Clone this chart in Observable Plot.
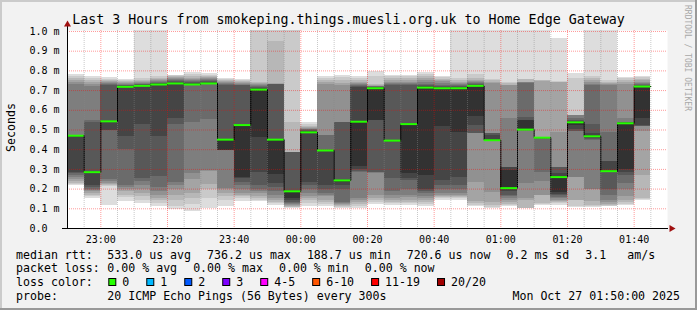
<!DOCTYPE html>
<html><head><meta charset="utf-8">
<script src="https://cdn.jsdelivr.net/npm/d3@7"></script>
<script src="https://cdn.jsdelivr.net/npm/@observablehq/plot@0.6"></script>
<style>
html,body{margin:0;padding:0;background:#f2f2f2;}
#chart{position:relative;width:697px;height:310px;background:#f2f2f2;overflow:hidden;font-family:"DejaVu Sans Mono",monospace;}
#chart svg{position:absolute;left:0;top:0;}
</style></head><body><div id="chart"></div>
<script>
const title = "Last 3 Hours from smokeping.things.muesli.org.uk to Home Edge Gateway";
const yLabel = "Seconds";
const watermark = "RRDTOOL / TOBI OETIKER";
const startTime = "2025-10-26T22:50:00Z";
const endTime = "2025-10-27T01:50:00Z";
const stepMinutes = 5;
const xTickLabels = ["23:00","23:20","23:40","00:00","00:20","00:40","01:00","01:20","01:40"];
const yTicks = [0, 0.1, 0.2, 0.3, 0.4, 0.5, 0.6, 0.7, 0.8, 0.9, 1.0];

// median rtt per 5-minute step (ms)
const medians = [0.471,0.286,0.544,0.719,0.724,0.731,0.7362,0.731,0.7362,0.451,0.525,0.705,0.451,0.1887,0.488,0.396,0.244,0.542,0.712,0.446,0.53,0.715,0.712,0.712,0.724,0.448,0.205,0.502,0.461,0.261,0.539,0.468,0.291,0.534,0.7206];

// 20 sorted ping rtts per step (ms)
const pings = [
[0.22,0.225,0.23,0.24,0.25,0.26,0.27,0.28,0.286,0.471,0.471,0.471,0.471,0.471,0.73,0.74,0.75,0.76,0.77,0.78],
[0.152,0.16,0.17,0.18,0.19,0.195,0.2,0.21,0.22,0.286,0.286,0.29,0.54,0.55,0.72,0.73,0.74,0.75,0.76,0.77],
[0.118,0.215,0.22,0.225,0.23,0.24,0.25,0.497,0.497,0.544,0.544,0.544,0.727,0.73,0.735,0.74,0.745,0.75,0.758,0.766],
[0.135,0.155,0.17,0.19,0.2,0.21,0.22,0.4,0.466,0.719,0.719,0.722,0.725,0.728,0.73,0.735,0.74,0.745,0.75,0.758],
[0.126,0.14,0.16,0.18,0.2,0.22,0.24,0.252,0.527,0.724,0.724,0.727,0.73,0.733,0.736,0.74,0.745,0.75,0.76,1.05],
[0.113,0.125,0.14,0.15,0.17,0.19,0.21,0.264,0.466,0.731,0.731,0.734,0.737,0.74,0.745,0.75,0.755,0.76,0.77,1.05],
[0.096,0.11,0.14,0.17,0.2,0.22,0.236,0.527,0.559,0.736,0.736,0.74,0.745,0.75,0.755,0.76,0.765,0.77,0.775,0.778],
[0.084,0.12,0.15,0.177,0.25,0.278,0.539,0.731,0.731,0.731,0.731,0.735,0.74,0.745,0.75,0.755,0.76,0.77,0.78,0.79],
[0.104,0.15,0.2,0.222,0.29,0.295,0.552,0.736,0.736,0.736,0.736,0.74,0.745,0.75,0.755,0.76,0.765,0.77,0.778,0.786],
[0.11,0.14,0.16,0.18,0.2,0.205,0.396,0.396,0.396,0.396,0.451,0.451,0.727,0.73,0.735,0.74,0.745,0.75,0.757,0.763],
[0.135,0.15,0.16,0.17,0.18,0.2,0.22,0.235,0.255,0.261,0.525,0.525,0.724,0.728,0.732,0.736,0.74,0.745,0.75,0.754],
[0.135,0.14,0.15,0.16,0.18,0.19,0.2,0.219,0.286,0.463,0.705,0.71,0.715,0.72,0.725,0.73,0.735,0.74,1.05,1.05],
[0.118,0.125,0.13,0.14,0.15,0.17,0.19,0.21,0.227,0.274,0.451,0.451,0.73,0.73,0.731,0.732,0.735,0.95,1.05,1.05],
[0.104,0.106,0.108,0.11,0.115,0.12,0.125,0.13,0.14,0.152,0.189,0.19,0.387,0.387,0.387,0.387,0.387,0.539,1.05,1.05],
[0.11,0.125,0.14,0.15,0.16,0.18,0.2,0.22,0.236,0.488,0.488,0.49,0.495,0.5,0.505,0.51,0.515,0.52,0.53,0.539],
[0.11,0.12,0.13,0.14,0.16,0.17,0.18,0.2,0.219,0.396,0.396,0.396,0.396,0.471,0.471,0.732,0.74,0.75,0.76,0.774],
[0.104,0.107,0.11,0.115,0.12,0.125,0.13,0.2,0.22,0.235,0.244,0.244,0.539,0.539,0.539,0.724,0.735,0.75,0.765,0.778],
[0.104,0.11,0.12,0.13,0.14,0.152,0.286,0.29,0.3,0.315,0.542,0.716,0.72,0.725,0.73,0.735,0.74,0.75,0.76,0.771],
[0.12,0.13,0.14,0.15,0.168,0.28,0.285,0.286,0.547,0.547,0.712,0.715,0.717,0.719,0.72,0.722,0.725,0.73,0.774,0.795],
[0.118,0.125,0.13,0.14,0.15,0.17,0.19,0.252,0.446,0.446,0.446,0.446,0.724,0.73,0.735,0.74,0.75,0.76,0.77,0.778],
[0.118,0.125,0.13,0.14,0.155,0.17,0.2,0.245,0.255,0.278,0.53,0.53,0.724,0.73,0.735,0.74,0.75,0.76,0.77,0.778],
[0.11,0.12,0.13,0.14,0.15,0.16,0.18,0.19,0.2,0.27,0.715,0.72,0.725,0.73,0.74,0.75,0.76,0.77,0.78,0.79],
[0.143,0.15,0.155,0.16,0.17,0.18,0.2,0.22,0.244,0.519,0.712,0.715,0.72,0.727,0.735,0.745,0.75,0.755,0.765,0.774],
[0.143,0.15,0.155,0.16,0.17,0.18,0.2,0.22,0.26,0.485,0.712,0.715,0.72,0.725,0.73,0.735,0.74,0.75,0.76,1.05],
[0.11,0.118,0.125,0.135,0.236,0.48,0.48,0.48,0.522,0.569,0.724,0.727,0.73,0.735,0.74,0.745,0.75,0.76,0.78,1.05],
[0.1,0.105,0.115,0.13,0.185,0.448,0.448,0.448,0.448,0.448,0.448,0.47,0.48,0.48,0.48,0.735,0.74,0.75,0.755,1.05],
[0.11,0.115,0.12,0.13,0.14,0.15,0.16,0.17,0.19,0.205,0.295,0.311,0.311,0.311,0.559,0.724,0.728,0.735,0.74,1.05],
[0.104,0.104,0.104,0.14,0.15,0.227,0.502,0.502,0.502,0.502,0.547,0.547,0.564,0.737,0.74,0.74,0.74,0.758,0.758,1.05],
[0.118,0.12,0.125,0.165,0.17,0.24,0.286,0.461,0.461,0.461,0.461,0.461,0.461,0.461,0.461,0.461,0.747,0.75,0.752,1.05],
[0.118,0.125,0.13,0.135,0.14,0.15,0.155,0.165,0.175,0.185,0.261,0.28,0.311,0.311,0.311,0.488,0.74,0.742,0.745,0.963],
[0.108,0.11,0.143,0.143,0.26,0.261,0.49,0.49,0.5,0.525,0.539,0.545,0.55,0.56,0.572,0.575,0.575,0.575,0.76,0.786],
[0.105,0.11,0.115,0.135,0.2,0.2,0.445,0.45,0.455,0.46,0.468,0.48,0.53,0.727,0.73,0.74,0.75,0.76,0.774,1.05],
[0.11,0.112,0.115,0.12,0.13,0.14,0.17,0.2,0.291,0.291,0.291,0.34,0.34,0.488,0.727,0.73,0.735,0.74,0.749,1.05],
[0.118,0.12,0.13,0.14,0.16,0.2,0.23,0.27,0.285,0.3,0.534,0.535,0.54,0.54,0.556,0.73,0.74,0.75,0.76,0.766],
[0.142,0.145,0.15,0.27,0.49,0.52,0.52,0.52,0.522,0.556,0.72,0.72,0.725,0.73,0.735,0.74,0.75,0.755,0.765,0.774]
];

const lossLabels = ["0","1","2","3","4-5","6-10","11-19","20/20"];
const lossColors = ["#26ff00","#00b8ff","#0059ff","#7e00ff","#ff00ff","#ff5500","#ff0000","#a10000"];
const rttStats = ["533.0 us avg","736.2 us max","188.7 us min","720.6 us now","0.2 ms sd","3.1   am/s"];
const lossStats = ["0.00 % avg","0.00 % max","0.00 % min","0.00 % now"];
const probeText = "20 ICMP Echo Pings (56 Bytes) every 300s";
const dateText = "Mon Oct 27 01:50:00 2025";

// ---------- build ----------
const t0 = new Date(startTime), t1 = new Date(endTime);
const step = stepMinutes * 60000;
const bars = medians.map((m, i) => ({start: new Date(+t0 + i * step), end: new Date(+t0 + (i + 1) * step), median: m, p: pings[i]}));
const greyOf = j => { const v = Math.floor(190 / 10 * (10 - j)) + 50; const h = v.toString(16).padStart(2, "0"); return "#" + h + h + h; };
const smoke = [];
for (let j = 1; j <= 10; j++) for (const b of bars) smoke.push({x1: b.start, x2: b.end, y1: b.p[j - 1], y2: b.p[20 - j], fill: greyOf(j)});
const stepLine = bars.map(b => ({t: b.start, m: b.median}));
stepLine.push({t: bars[bars.length - 1].end, m: bars[bars.length - 1].median});
const tickDates = xTickLabels.map(s => { const [h, mm] = s.split(":").map(Number); return new Date(Date.UTC(2025, 9, h >= 12 ? 26 : 27, h, mm)); });
const minorTimes = [];
for (let t = +t0 + step; t < +t1; t += step) if (new Date(t).getUTCMinutes() % 20 !== 0) minorTimes.push(new Date(t));
const arrowColor = "#a01010";

const plot = Plot.plot({
  width: 697, height: 310,
  marginTop: 30, marginRight: 30, marginBottom: 82, marginLeft: 67,
  style: {background: "transparent", fontFamily: "'DejaVu Sans Mono', monospace", fontSize: "10px", color: "#000", overflow: "visible"},
  x: {type: "utc", domain: [t0, t1], axis: null},
  y: {domain: [0, 1.005], clamp: true, axis: null},
  color: {type: "identity"},
  marks: [
    Plot.frame({fill: "#ffffff", stroke: "none"}),
    Plot.rect(smoke, {x1: "x1", x2: "x2", y1: "y1", y2: "y2", fill: "fill", shapeRendering: "crispEdges"}),
    Plot.gridX(minorTimes, {stroke: "#888", strokeOpacity: 0.45, strokeDasharray: "1,1"}),
    Plot.gridX(tickDates, {stroke: "#ff0000", strokeOpacity: 0.4, strokeDasharray: "1,1"}),
    Plot.gridY(yTicks.filter(v => v > 0), {stroke: "#ff0000", strokeOpacity: 0.4, strokeDasharray: "1,1"}),
    Plot.line(stepLine, {x: "t", y: "m", curve: "step-after", stroke: "#000", strokeWidth: 1, strokeDasharray: "1,1"}),
    Plot.ruleY(bars, {x1: "start", x2: "end", y: "median", stroke: lossColors[0], strokeWidth: 2}),
    Plot.ruleY([0], {stroke: "#000", insetLeft: -5, insetRight: -1}),
    Plot.ruleX([t0], {stroke: "#000", insetTop: -4}),
    Plot.dot([{x: t1, y: 0}], {x: "x", y: "y", symbol: "triangle", r: 2.6, fill: arrowColor, stroke: "none", rotate: 90, dx: 4}),
    Plot.dot([{x: t0, y: 1.005}], {x: "x", y: "y", symbol: "triangle", r: 2.6, fill: arrowColor, stroke: "none", dy: -6}),
    Plot.axisX(tickDates, {tickSize: 0, tickPadding: 7, tickFormat: d3.utcFormat("%H:%M"), label: null}),
    Plot.axisY(yTicks, {tickSize: 0, tickPadding: 8, tickFormat: d => d === 0 ? "0.0\u00a0\u00a0" : d.toFixed(1) + " m", label: null})
  ]
});
document.getElementById("chart").appendChild(plot);

// ---------- overlay texts (title, y label, legend) ----------
const svg = d3.select("#chart").append("svg").attr("width", 697).attr("height", 310)
  .style("font-family", "'DejaVu Sans Mono', monospace");
// 3D border
svg.append("rect").attr("x", 0).attr("y", 0).attr("width", 697).attr("height", 2).attr("fill", "#cbcbcb");
svg.append("rect").attr("x", 0).attr("y", 0).attr("width", 2).attr("height", 310).attr("fill", "#cbcbcb");
svg.append("rect").attr("x", 0).attr("y", 308).attr("width", 697).attr("height", 2).attr("fill", "#999");
svg.append("rect").attr("x", 695).attr("y", 0).attr("width", 2).attr("height", 310).attr("fill", "#999");

svg.append("text").attr("x", 348.5).attr("y", 23.5).attr("text-anchor", "middle")
  .attr("font-size", "13.3px").attr("fill", "#000").text(title);
svg.append("text").attr("transform", "translate(14.5,127.5) rotate(-90)").attr("text-anchor", "middle")
  .attr("font-size", "11.6px").attr("fill", "#000").text(yLabel);
svg.append("text").attr("transform", "translate(684.5,5) rotate(90)").attr("text-anchor", "start")
  .attr("font-size", "8px").attr("fill", "#a8a8a8").text(watermark);

const fs = 11.6, cw = fs * 0.602, gap = 16, x0 = 16, xv = 107.3;
const base = [258.5, 272.2, 285.9, 299.6];
const txt = (x, y, s, anchor) => svg.append("text").attr("x", x).attr("y", y)
  .attr("font-size", fs + "px").attr("fill", "#000").attr("text-anchor", anchor || "start")
  .style("white-space", "pre").attr("xml:space", "preserve").text(s);

txt(x0, base[0], "median rtt:");
let x = xv;
for (const s of rttStats) { txt(x, base[0], s); x += s.length * cw + gap; }
txt(x0, base[1], "packet loss:");
x = xv;
for (const s of lossStats) { txt(x, base[1], s); x += s.length * cw + gap; }
txt(x0, base[2], "loss color:");
x = xv;
lossLabels.forEach((s, i) => {
  svg.append("rect").attr("x", x + 1.5).attr("y", 278.5).attr("width", 7).attr("height", 7)
    .attr("fill", lossColors[i]).attr("stroke", "#000").attr("stroke-width", 1);
  txt(x + 15, base[2], s);
  x += 15 + s.length * cw + gap;
});
txt(x0, base[3], "probe:");
txt(xv, base[3], probeText);
txt(680, base[3], dateText, "end");
</script>
</body></html>
